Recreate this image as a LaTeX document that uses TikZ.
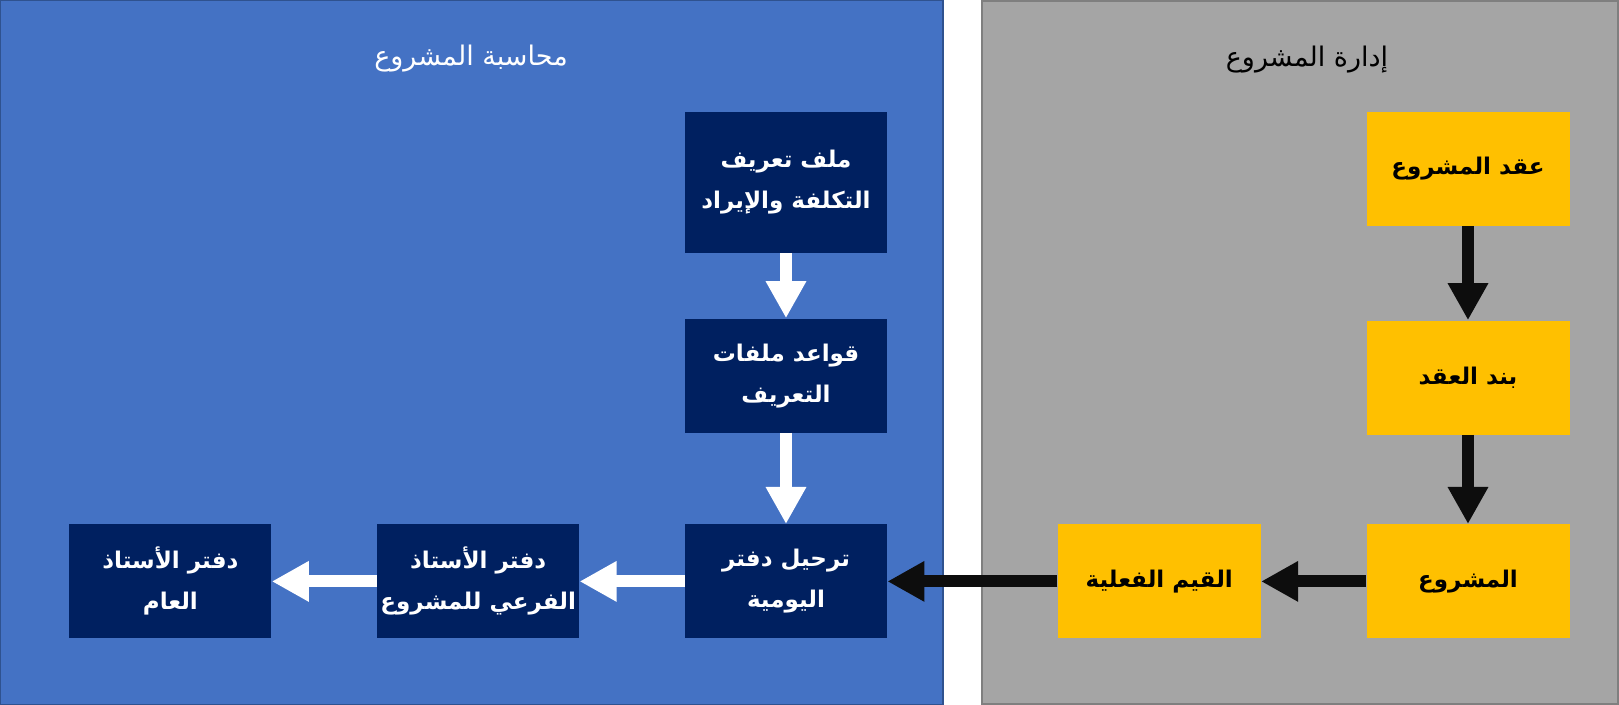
\documentclass[tikz,border=0pt]{standalone}
\usepackage{fontspec}
\usetikzlibrary{positioning,arrows.meta}
\TeXXeTstate=1
\newfontfamily\arabicfont[Script=Arabic]{DejaVu Sans}
\newcommand{\ar}[1]{\beginR #1\endR}
\newcommand{\boxfont}{\arabicfont\bfseries\fontsize{11.5}{20.5}\selectfont}
\newcommand{\titlefont}{\arabicfont\fontsize{13.5}{16}\selectfont}
\definecolor{panelblue}{HTML}{4472C4}
\definecolor{paneledge}{HTML}{2F528F}
\definecolor{panelgrey}{HTML}{A5A5A5}
\definecolor{greyedge}{HTML}{7F7F7F}
\definecolor{navy}{HTML}{002060}
\definecolor{amber}{HTML}{FFC000}
\definecolor{arrowblack}{HTML}{0D0D0D}
\begin{document}
\begin{tikzpicture}[x=1pt,y=1pt,node distance=52.5pt,
  darkbox/.style={fill=navy,text=white,minimum width=101pt,minimum height=57pt,inner sep=0pt,align=center,font=\boxfont},
  yellowbox/.style={fill=amber,text=black,minimum width=101.5pt,minimum height=57pt,inner sep=0pt,align=center,font=\boxfont},
  whitearrow/.style={draw=white,line width=6pt,-{Triangle[width=19pt,length=18.5pt]}},
  blackarrow/.style={whitearrow,draw=arrowblack}]
\useasboundingbox (0,0) rectangle (809.5,-352.5);
\filldraw[fill=panelblue,draw=paneledge,line width=0.6pt] (0.3,-0.3) rectangle (471.5,-352.2);
\filldraw[fill=panelgrey,draw=greyedge,line width=0.8pt] (490.9,-0.4) rectangle (809.1,-352.1);
\node[font=\titlefont,text=white] (accounting) at (235.5,-29.5) {\ar{محاسبة المشروع}};
\node[font=\titlefont,text=black] (management) at (653.5,-30) {\ar{إدارة المشروع}};
\node[darkbox] (post) at (393,-290.7) {\ar{ترحيل دفتر}\\\ar{اليومية}};
\node[darkbox,left=of post] (subledger) {\ar{دفتر الأستاذ}\\\ar{الفرعي للمشروع}};
\node[darkbox,left=of subledger] (ledger) {\ar{دفتر الأستاذ}\\\ar{العام}};
\node[darkbox,above=45.5pt of post] (rules) {\ar{قواعد ملفات}\\\ar{التعريف}};
\node[darkbox,above=32.5pt of rules,minimum height=70.5pt] (profile) {\ar{ملف تعريف}\\\ar{التكلفة والإيراد}};
\node[yellowbox] (project) at (734,-290.7) {\ar{المشروع}};
\node[yellowbox,left=of project] (actual) {\ar{القيم الفعلية}};
\node[yellowbox,above=44.5pt of project] (item) {\ar{بند العقد}};
\node[yellowbox,above=47pt of item] (contract) {\ar{عقد المشروع}};
\draw[whitearrow] (profile) -- (rules);
\draw[whitearrow] (rules) -- (post);
\draw[whitearrow] (post) -- (subledger);
\draw[whitearrow] (subledger) -- (ledger);
\draw[blackarrow] (contract) -- (item);
\draw[blackarrow] (item) -- (project);
\draw[blackarrow] (project) -- (actual);
\draw[blackarrow] (actual) -- (post);
\end{tikzpicture}
\end{document}
